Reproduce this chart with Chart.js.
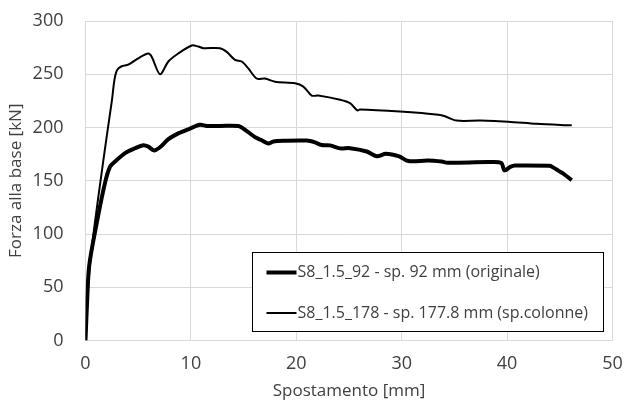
<!DOCTYPE html>
<html>
<head>
<meta charset="utf-8">
<script src="https://cdn.jsdelivr.net/npm/chart.js@4/dist/chart.umd.min.js"></script>
<style>
  html, body { margin: 0; padding: 0; background: #fff; }
  #wrap { width: 624px; height: 403px; }
</style>
</head>
<body>
<div id="wrap"><canvas id="chart" width="624" height="403"></canvas></div>
<script>
// S8_1.5_92 - sp. 92 mm (originale)
const disp92 = [0, 0.17, 0.36, 1.06, 1.85, 2.32, 2.8, 3.75, 4.7, 5.48, 5.96, 6.5, 7.07, 7.86, 8.8, 9.91, 10.86, 11.5, 12.76, 14.5, 14.97, 16.08, 16.72, 17.35, 17.82, 18.77, 21.0, 21.77, 22.41, 23.2, 24.15, 25.1, 26.68, 27.63, 28.5, 29.76, 30.63, 32.5, 33.8, 34.35, 38.38, 39.45, 39.75, 40.3, 40.75, 44.0, 44.3, 44.86, 45.3, 46.13];
const force92 = [0, 41, 71, 110, 148, 163, 168, 176, 180.5, 183.3, 182, 178.5, 181.5, 189, 194.5, 199, 202.5, 201.5, 201.5, 201.4, 199, 191, 188, 185, 186.8, 187.5, 187.7, 186, 183.5, 183.2, 180.4, 180.6, 177.5, 173, 175.3, 172.8, 168.5, 169, 168, 167, 167.5, 166.6, 159.8, 163, 164.3, 164, 163, 159.5, 157, 150.5];

// S8_1.5_178 - sp. 177.8 mm (sp.colonne)
const disp178 = [0, 0.43, 1.69, 2.5, 2.75, 3.0, 3.43, 4.06, 5.01, 5.96, 6.28, 7.07, 7.86, 8.8, 10.08, 10.7, 11.18, 12.76, 13.4, 14.18, 14.82, 15.45, 16.24, 17.03, 17.98, 19.88, 20.67, 21.46, 22.09, 24.15, 25.1, 25.79, 26.04, 29.84, 33.5, 34.11, 35.22, 37.43, 40.11, 42.8, 46.13];
const force178 = [0, 72, 169, 225, 245, 254, 257.5, 259, 265, 269.5, 266.5, 250, 262, 269.5, 277, 276, 274.5, 274.5, 271, 263.5, 262, 255.5, 246, 246, 243, 241.5, 238.4, 230, 230, 226, 222.8, 216, 217, 215, 212, 210.5, 206.5, 206.5, 205.5, 203.5, 202];

const seriesNames = ["S8_1.5_92 - sp. 92 mm (originale)", "S8_1.5_178 - sp. 177.8 mm (sp.colonne)"];
const xTitle = "Spostamento [mm]";
const yTitle = "Forza alla base [kN]";

const FONT = "'Open Sans', sans-serif";
const TEXT = "#404040";
const GRID = "#d9d9d9";

const toPoints = (xs, ys) => xs.map((x, i) => ({ x, y: ys[i] }));

// legend drawn inside the plot area, like the Excel one
const boxLegend = {
    id: "boxLegend",
    afterDraw(chart) {
        const ctx = chart.ctx;
        const left = 252.5, top = 252.5, w = 351, h = 79;
        ctx.save();
        ctx.fillStyle = "#fff";
        ctx.fillRect(left, top, w, h);
        ctx.strokeStyle = "#000";
        ctx.lineWidth = 1;
        ctx.strokeRect(left, top, w, h);
        ctx.font = "16px " + FONT;
        ctx.textBaseline = "middle";
        chart.data.datasets.forEach((ds, i) => {
            const y = top + 20 + i * 40.5;
            ctx.strokeStyle = ds.borderColor;
            ctx.lineWidth = ds.borderWidth;
            ctx.beginPath();
            ctx.moveTo(left + 14, y);
            ctx.lineTo(left + 44, y);
            ctx.stroke();
            ctx.fillStyle = TEXT;
            ctx.fillText(ds.label, left + 45, y);
        });
        ctx.restore();
    }
};

new Chart(document.getElementById("chart"), {
    type: "scatter",
    data: {
        datasets: [
            {
                label: seriesNames[0],
                data: toPoints(disp92, force92),
                showLine: true,
                borderColor: "#000",
                borderWidth: 4,
                pointRadius: 0,
                tension: 0.3
            },
            {
                label: seriesNames[1],
                data: toPoints(disp178, force178),
                showLine: true,
                borderColor: "#000",
                borderWidth: 2,
                pointRadius: 0,
                tension: 0.3
            }
        ]
    },
    options: {
        responsive: false,
        animation: false,
        layout: { padding: { top: 21, right: 11.5, left: 0, bottom: 0 } },
        plugins: {
            legend: { display: false },
            tooltip: { enabled: false }
        },
        scales: {
            x: {
                type: "linear",
                min: 0,
                max: 50,
                ticks: { stepSize: 10, color: TEXT, font: { family: FONT, size: 18 }, padding: 13 },
                grid: { color: GRID, drawTicks: false },
                border: { color: GRID },
                title: { display: true, text: xTitle, color: TEXT, font: { family: FONT, size: 17 }, padding: { top: 0, bottom: 2 } },
                afterFit: (s) => { s.height = 62.5; s.paddingLeft = 0; s.paddingRight = 0; }
            },
            y: {
                min: 0,
                max: 300,
                ticks: { stepSize: 50, color: TEXT, font: { family: FONT, size: 18 }, padding: 22 },
                grid: { color: GRID, drawTicks: false },
                border: { color: GRID },
                title: { display: true, text: yTitle, color: TEXT, font: { family: FONT, size: 17 }, padding: { top: 6, bottom: 0 } },
                afterFit: (s) => { s.width = 85.5; s.paddingTop = 0; s.paddingBottom = 0; }
            }
        }
    },
    plugins: [boxLegend]
});
</script>
</body>
</html>
